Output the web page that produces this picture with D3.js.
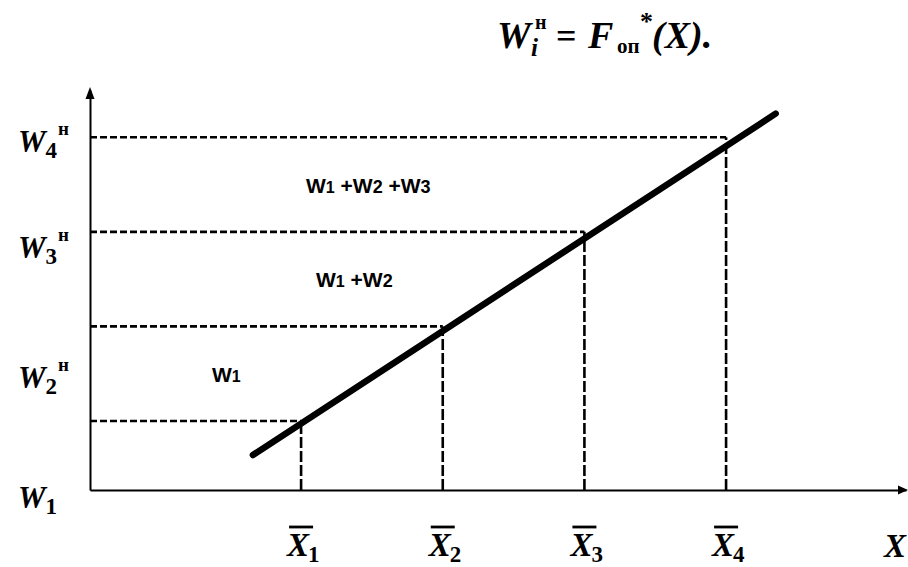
<!DOCTYPE html>
<html><head><meta charset="utf-8">
<script src="https://cdn.jsdelivr.net/npm/d3@7"></script>
<style>html,body{margin:0;background:#fff}</style>
</head><body><svg id="c" width="908" height="567"></svg>
<script>
// Mean values X̄i and the thresholds Wiн of the operating characteristic
const xLevels = [1, 2, 3, 4];
const xSubs = ["1", "2", "3", "4"];
const wLevels = [1, 2, 3, 4];
const wSubs = ["1", "2", "3", "4"];
const wSup = ["", "н", "н", "н"];
// the straight line Wiн = Fоп*(X): two end points
const lineX = [0.66, 4.35];
const lineY = [0.64, 4.25];
// cumulative sums written inside the bands between thresholds
const bandSums = [["1"], ["1", "2"], ["1", "2", "3"]];

const svg = d3.select("#c");
const SERIF = "'Liberation Serif','Times New Roman',serif";
const SANS = "'Liberation Sans',Arial,sans-serif";

const x = d3.scaleLinear().domain([-0.49, 5.27]).range([90, 906]);
const y = d3.scaleLinear().domain([0.27, 4.5]).range([490, 90]);
const [xa] = x.domain(), [ya] = y.domain();

// axes
const gx = svg.append("g").attr("transform", `translate(0,${y(ya)})`)
  .call(d3.axisBottom(x).tickValues([]).tickSizeOuter(0));
const gy = svg.append("g").attr("transform", `translate(${x(xa)},0)`)
  .call(d3.axisLeft(y).tickValues([]).tickSizeOuter(0));
[gx, gy].forEach(g => g.select(".domain").attr("stroke", "#000").attr("stroke-width", 2));

const xEnd = x.range()[1], yTop = y.range()[1];
svg.append("path")
  .attr("d", `M${xEnd + 2},${y(ya)} L${xEnd - 8},${y(ya) - 4.5} L${xEnd - 8},${y(ya) + 4.5} Z`)
  .attr("fill", "#000");
svg.append("path")
  .attr("d", `M${x(xa)},${yTop - 3} L${x(xa) - 4.5},${yTop + 9} L${x(xa) + 4.5},${yTop + 9} Z`)
  .attr("fill", "#000");

// dashed guides: from the vertical axis to each X̄i, and down to the horizontal axis
svg.selectAll("line.h").data(xLevels).join("line")
  .attr("x1", x(xa)).attr("x2", d => x(d))
  .attr("y1", (d, i) => y(wLevels[i])).attr("y2", (d, i) => y(wLevels[i]))
  .attr("stroke", "#000").attr("stroke-width", 2.6).attr("stroke-dasharray", "7,3");
svg.selectAll("line.v").data(xLevels).join("line")
  .attr("x1", d => x(d)).attr("x2", d => x(d))
  .attr("y1", y(ya)).attr("y2", (d, i) => y(wLevels[i]))
  .attr("stroke", "#000").attr("stroke-width", 2.6).attr("stroke-dasharray", "11,3");

// operating characteristic
svg.append("line")
  .attr("x1", x(lineX[0])).attr("y1", y(lineY[0]))
  .attr("x2", x(lineX[1])).attr("y2", y(lineY[1]))
  .attr("stroke", "#000").attr("stroke-width", 6.5).attr("stroke-linecap", "round");

// labels of the vertical axis (baselines in W units)
const wLabelAt = [0.08, 1.35, 2.72, 3.84];
wLevels.forEach((w, i) => {
  const t = svg.append("text").attr("x", 18).attr("y", y(wLabelAt[i]))
    .attr("font-family", SERIF).attr("font-weight", "bold").attr("font-size", 31);
  t.append("tspan").attr("font-style", "italic").text("W");
  t.append("tspan").attr("font-size", 23).attr("dy", 6).text(wSubs[i]);
  if (wSup[i]) t.append("tspan").attr("font-size", 19).attr("dy", -23).attr("dx", 1).text(wSup[i]);
});

// labels of the horizontal axis
xLevels.forEach((v, i) => {
  const cx = x(v);
  svg.append("line").attr("x1", cx - 12).attr("x2", cx + 12)
    .attr("y1", 527).attr("y2", 527).attr("stroke", "#000").attr("stroke-width", 2.8);
  const t = svg.append("text").attr("x", cx - 14).attr("y", 556)
    .attr("font-family", SERIF).attr("font-weight", "bold").attr("font-size", 33);
  t.append("tspan").attr("font-style", "italic").text("X");
  t.append("tspan").attr("font-size", 23).attr("dy", 6).attr("dx", -1).text(xSubs[i]);
});
svg.append("text").attr("x", 884).attr("y", 557)
  .attr("font-family", SERIF).attr("font-weight", "bold").attr("font-style", "italic")
  .attr("font-size", 33).text("X");

// band sums
const bandX = [212, 316, 306];
bandSums.forEach((terms, i) => {
  const t = svg.append("text").attr("x", bandX[i]).attr("y", y(wLevels[i] + 0.5) + 8)
    .attr("font-family", SANS).attr("font-weight", "bold").attr("font-size", 21);
  terms.forEach((s, j) => {
    t.append("tspan").text((j ? " +" : "") + "W");
    t.append("tspan").attr("font-size", j ? 18 : 16).text(s);
  });
});

// formula above the plot
const title = svg.append("g").attr("font-family", SERIF).attr("font-weight", "bold");
title.append("text").attr("x", 497).attr("y", 48).attr("font-size", 38).attr("font-style", "italic").text("W");
title.append("text").attr("x", 531).attr("y", 56).attr("font-size", 25).attr("font-style", "italic").text("i");
title.append("text").attr("x", 535).attr("y", 29).attr("font-size", 20).text("н");
title.append("text").attr("x", 556).attr("y", 48).attr("font-size", 36).text("=");
title.append("text").attr("x", 588).attr("y", 48).attr("font-size", 38).attr("font-style", "italic").text("F");
title.append("text").attr("x", 617).attr("y", 53).attr("font-size", 21).text("оп");
title.append("text").attr("x", 640).attr("y", 30).attr("font-size", 26).text("*");
title.append("text").attr("x", 652).attr("y", 48).attr("font-size", 38).attr("font-style", "italic").text("(X).");
</script>
</body></html>
